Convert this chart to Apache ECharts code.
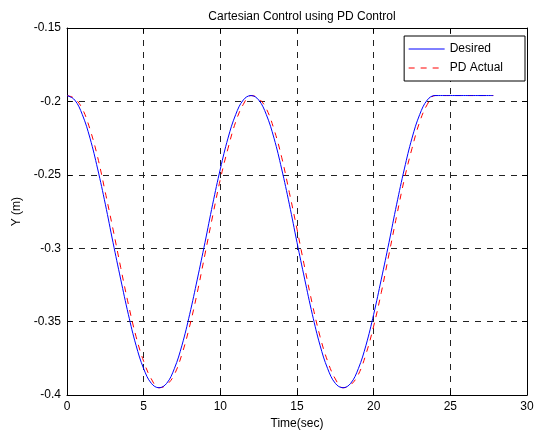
<!DOCTYPE html>
<html>
<head>
<meta charset="utf-8">
<script src="https://cdn.jsdelivr.net/npm/echarts@6/dist/echarts.min.js"></script>
<style>html,body{margin:0;padding:0;background:#fff}#c{width:544px;height:435px}</style>
</head>
<body>
<div id="c"></div>
<script>
var time = [0,0.5,1,1.5,2,2.5,3,3.5,4,4.5,5,5.5,6,6.5,7,7.5,8,8.5,9,9.5,10,10.5,11,11.5,12,
  12.5,13,13.5,14,14.5,15,15.5,16,16.5,17,17.5,18,18.5,19,19.5,20,20.5,21,21.5,22,22.5,23,23.5,24,
  24.5,25,25.5,26,26.5,27,27.5,27.8];
var desired = [-0.196,-0.199,-0.209,-0.225,-0.246,-0.270,-0.296,-0.321,-0.345,-0.366,-0.382,-0.392,-0.395,
  -0.392,-0.382,-0.366,-0.345,-0.321,-0.296,-0.270,-0.246,-0.225,-0.209,-0.199,-0.196,
  -0.199,-0.209,-0.225,-0.246,-0.270,-0.296,-0.321,-0.345,-0.366,-0.382,-0.392,-0.395,
  -0.392,-0.382,-0.366,-0.345,-0.321,-0.296,-0.270,-0.246,-0.225,-0.209,-0.199,-0.196,
  -0.196,-0.196,-0.196,-0.196,-0.196,-0.196,-0.196,-0.196];
var actual = [-0.196,-0.198,-0.205,-0.219,-0.238,-0.262,-0.287,-0.313,-0.338,-0.360,-0.377,-0.389,-0.395,
  -0.393,-0.386,-0.372,-0.353,-0.330,-0.304,-0.278,-0.253,-0.232,-0.214,-0.202,-0.196,
  -0.198,-0.205,-0.219,-0.238,-0.262,-0.287,-0.313,-0.338,-0.360,-0.377,-0.389,-0.395,
  -0.393,-0.386,-0.372,-0.353,-0.330,-0.304,-0.278,-0.253,-0.232,-0.214,-0.202,-0.196,
  -0.196,-0.196,-0.196,-0.196,-0.196,-0.196,-0.196,-0.196];
var seriesNames = ['Desired','PD Actual'];
var titleText = 'Cartesian Control using PD Control';
var xLabel = 'Time(sec)';
var yLabel = 'Y (m)';

function pairs(xs, ys){ return xs.map(function(x,i){ return [x, ys[i]]; }); }
var font = 'Liberation Sans, Arial, Helvetica, sans-serif';
var chart = echarts.init(document.getElementById('c'), null, {renderer:'canvas'});
var gridLine = {show:true, lineStyle:{color:'#222', width:1, type:[6,6]}};
chart.setOption({
  animation:false,
  backgroundColor:'#fff',
  title:{text:titleText, left:297, top:6, textAlign:'center',
    textStyle:{fontFamily:font, fontSize:12, fontWeight:'normal', color:'#000'}},
  legend:{right:19, top:36, orient:'vertical', backgroundColor:'#fff',
    borderColor:'#000', borderWidth:1, padding:[7,22,7,4], itemGap:7,
    itemWidth:36, itemHeight:10,
    itemStyle:{opacity:0},
    lineStyle:{width:1},
    textStyle:{fontFamily:font, fontSize:12, color:'#000'},
    data:seriesNames},
  grid:{left:67, right:17, top:28, bottom:38, containLabel:false},
  xAxis:[{type:'value', min:0, max:30, interval:5,
    name:xLabel, nameLocation:'middle', nameGap:21,
    nameTextStyle:{fontFamily:font, fontSize:12, color:'#000'},
    axisLine:{show:true, onZero:false, lineStyle:{color:'#000', width:1}},
    axisTick:{show:true, inside:true, length:5, lineStyle:{color:'#000'}},
    axisLabel:{fontFamily:font, fontSize:12, color:'#000', margin:6},
    splitLine:gridLine},
   {type:'value', position:'top', min:0, max:30, interval:5,
    axisLine:{show:true, onZero:false, lineStyle:{color:'#000', width:1}},
    axisTick:{show:true, inside:true, length:5, lineStyle:{color:'#000'}},
    axisLabel:{show:false}, splitLine:{show:false}}],
  yAxis:[{type:'value', min:-0.4, max:-0.15, interval:0.05,
    name:yLabel, nameLocation:'middle', nameGap:27, nameRotate:90,
    nameTextStyle:{fontFamily:font, fontSize:12, color:'#000', align:'center', verticalAlign:'bottom'},
    axisLine:{show:true, onZero:false, lineStyle:{color:'#000', width:1}},
    axisTick:{show:true, inside:true, length:5, lineStyle:{color:'#000'}},
    axisLabel:{fontFamily:font, fontSize:12, color:'#000', margin:6,
      formatter:function(v){ return String(parseFloat(v.toFixed(2))); }},
    splitLine:gridLine},
   {type:'value', position:'right', min:-0.4, max:-0.15, interval:0.05,
    axisLine:{show:true, onZero:false, lineStyle:{color:'#000', width:1}},
    axisTick:{show:true, inside:true, length:5, lineStyle:{color:'#000'}},
    axisLabel:{show:false}, splitLine:{show:false}}],
  series:[
    {name:seriesNames[0], type:'line', data:pairs(time, desired), showSymbol:false, symbol:'none',
      smooth:0.4, lineStyle:{color:'#0000ff', width:1}, itemStyle:{color:'#0000ff'}, z:3},
    {name:seriesNames[1], type:'line', data:pairs(time, actual), showSymbol:false, symbol:'none',
      smooth:0.4, lineStyle:{color:'#ff0000', width:1, type:[6,6]}, itemStyle:{color:'#ff0000'}, z:2}
  ]
});
</script>
</body>
</html>
